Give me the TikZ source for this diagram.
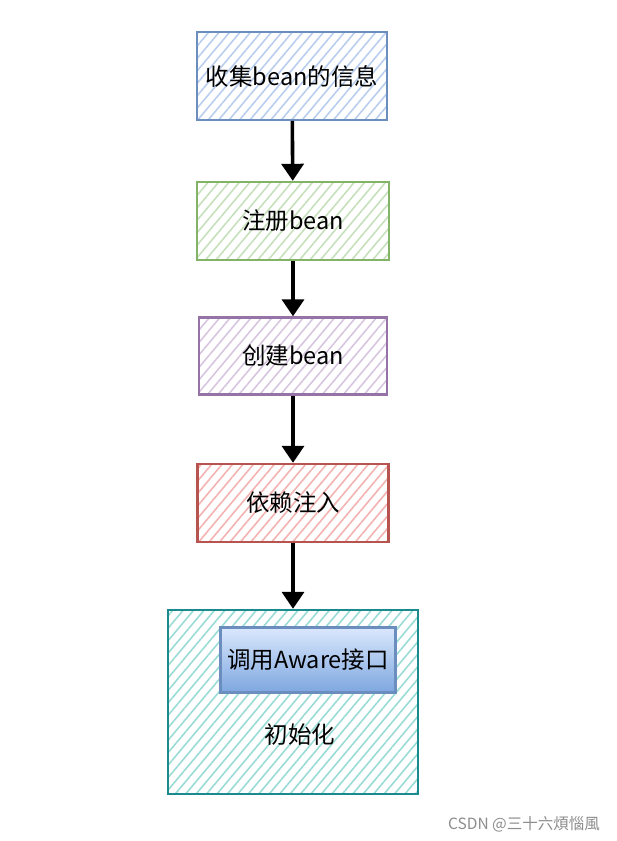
\documentclass[tikz,border=0pt]{standalone}
\usepackage{fontspec}
\setmainfont{Noto Sans CJK SC}
\usetikzlibrary{arrows.meta,patterns.meta}
\definecolor{blueline}{HTML}{6C8EBF}
\definecolor{bluehatch}{HTML}{B9CEEE}
\definecolor{greenline}{HTML}{82B366}
\definecolor{greenhatch}{HTML}{C6E0BC}
\definecolor{purpleline}{HTML}{9673A6}
\definecolor{purplehatch}{HTML}{D6C6DF}
\definecolor{redline}{HTML}{B85450}
\definecolor{redhatch}{HTML}{F3B3B1}
\definecolor{tealline}{HTML}{1A8A8C}
\definecolor{tealhatch}{HTML}{9ADBD6}
\definecolor{awaretop}{HTML}{DAE8FC}
\definecolor{awarebot}{HTML}{7EA6E0}

\begin{document}
\begin{tikzpicture}[x=1pt, y=-1pt,
    stage/.style={draw=#1line, line width=2.4pt, pattern color=#1hatch,
      pattern={Lines[angle=50, distance=8pt, line width=1.6pt]},
      inner sep=0pt, font=\fontsize{23.5}{28}\selectfont},
    flow/.style={line width=3.6pt, -{Triangle[length=17pt, width=22pt]}}]
            \useasboundingbox (0,0) rectangle (617,841);
            \node[stage=blue, minimum width=190pt, minimum height=88pt] (collect) at (292,76) {收集bean的信息};
            \node[stage=green, minimum width=192pt, minimum height=78pt] (register) at (293,221) {注册bean};
            \node[stage=purple, minimum width=188pt, minimum height=77pt] (create) at (293,356) {创建bean};
            \node[stage=red, minimum width=191pt, minimum height=78pt] (inject) at (293,503) {依赖注入};
            \node[stage=teal, minimum width=250pt, minimum height=184pt] (init) at (293,702) {};
            \node[draw=blueline, line width=2.4pt, top color=awaretop, bottom color=awarebot,
              minimum width=175pt, minimum height=65pt, inner sep=0pt,
              font=\fontsize{23.5}{28}\selectfont] (aware) at (308,660) {调用Aware接口};
            \node[font=\fontsize{23.5}{28}\selectfont] (initlabel) at (300,735) {初始化};

            \draw[flow] (collect) -- (register);
            \draw[flow] (register) -- (create);
            \draw[flow] (create) -- (inject);
            \draw[flow] (inject) -- (init);

            \node[text=black!45, font=\fontsize{15.5}{18}\selectfont] (mark) at (524,824) {CSDN @三十六煩惱風};
\end{tikzpicture}
\end{document}
